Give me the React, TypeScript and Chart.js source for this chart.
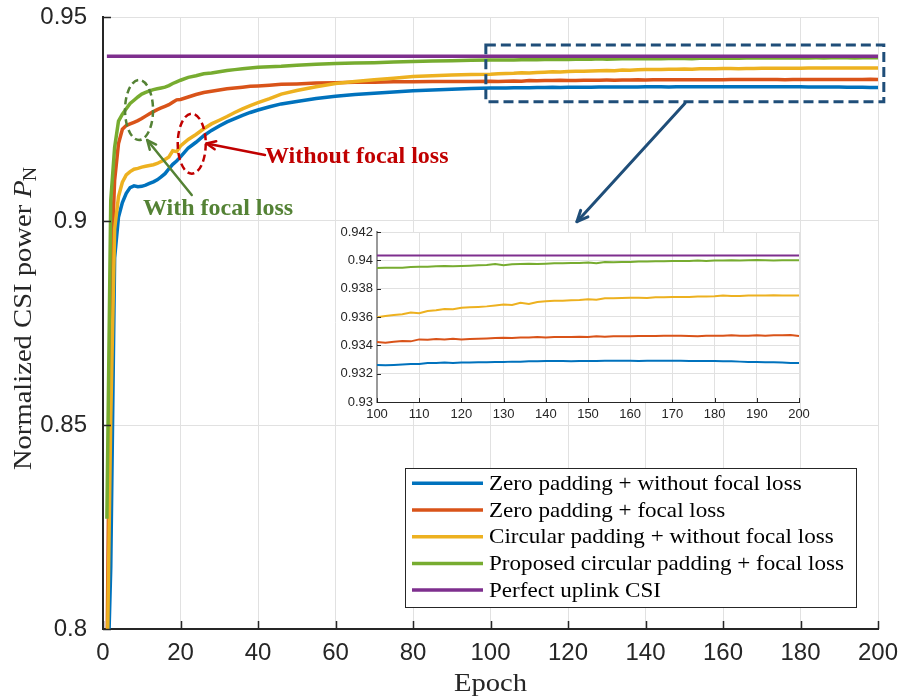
import React, { useEffect, useRef } from 'react';
import { Chart, registerables } from 'chart.js';

Chart.register(...registerables);

// ---------------- data ----------------
const epochs = [
  1, 2, 3, 4, 5, 6, 7, 8, 9, 10, 11, 12, 13, 14, 15, 16, 17, 18, 19, 20,
  22, 24, 26, 28, 30, 32, 34, 36, 38, 40,
  43, 46, 50,
  55, 60, 65, 70, 75, 80, 85, 90, 95,
  100, 102, 104, 106, 108, 110, 112, 114, 116, 118,
  120, 122, 124, 126, 128, 130, 132, 134, 136, 138,
  140, 142, 144, 146, 148, 150, 152, 154, 156, 158,
  160, 162, 164, 166, 168, 170, 172, 174, 176, 178,
  180, 182, 184, 186, 188, 190, 192, 194, 196, 198,
  200,
];

const zeroPadNoFocal = [
  0.78, 0.815, 0.891, 0.901, 0.9045, 0.9068, 0.9082, 0.9086, 0.9084, 0.9085, 0.9088, 0.9092, 0.9096, 0.9101, 0.9108, 0.9116, 0.9128, 0.9139, 0.9147, 0.9157,
  0.9179, 0.9193, 0.9209, 0.9222, 0.9233, 0.9243, 0.9251, 0.9259, 0.9266, 0.9272,
  0.928, 0.9287, 0.9293,
  0.93, 0.9306, 0.931, 0.9313, 0.9316, 0.9319, 0.9321, 0.9323, 0.9325,
  0.93261, 0.93259, 0.93261, 0.93264, 0.93268, 0.93268, 0.93275, 0.93275, 0.93278, 0.93275,
  0.93278, 0.93278, 0.9328, 0.9328, 0.93282, 0.93282, 0.93285, 0.93285, 0.93287, 0.93287,
  0.93289, 0.93289, 0.93289, 0.93287, 0.93289, 0.93289, 0.93289, 0.93292, 0.93292, 0.93292,
  0.93292, 0.93289, 0.93292, 0.93292, 0.93292, 0.93292, 0.93292, 0.93289, 0.93289, 0.93289,
  0.93289, 0.93287, 0.93287, 0.93285, 0.93282, 0.93282, 0.9328, 0.9328, 0.93278, 0.93275,
  0.93275,
];

const zeroPadFocal = [
  0.79, 0.885, 0.91, 0.919, 0.9225, 0.9234, 0.9238, 0.9242, 0.9246, 0.9251, 0.9257, 0.9263, 0.9268, 0.9273, 0.9277, 0.9281, 0.9285, 0.9291, 0.9297, 0.9298,
  0.9304, 0.931, 0.9315, 0.9318, 0.9321, 0.9324, 0.9326, 0.9328, 0.933, 0.9331,
  0.9333, 0.9335, 0.9336,
  0.9338, 0.9339, 0.934, 0.934, 0.9341, 0.9341, 0.9342, 0.9342, 0.9342,
  0.93424, 0.93419, 0.93426, 0.93431, 0.93428, 0.93442, 0.9344, 0.93445, 0.93442, 0.93447,
  0.93442, 0.93445, 0.93447, 0.93449, 0.93452, 0.93454, 0.93452, 0.93456, 0.93456, 0.93459,
  0.93456, 0.93459, 0.93459, 0.93459, 0.93461, 0.93459, 0.93464, 0.93461, 0.93464, 0.93464,
  0.93464, 0.93466, 0.93466, 0.93466, 0.93468, 0.93468, 0.93468, 0.93466, 0.93464, 0.93468,
  0.93468, 0.93468, 0.93471, 0.93468, 0.93468, 0.93471, 0.93468, 0.93471, 0.93471, 0.93473,
  0.93466,
];

const circPadNoFocal = [
  0.785, 0.852, 0.898, 0.906, 0.9095, 0.9113, 0.9121, 0.9127, 0.9129, 0.9132, 0.9134, 0.9136, 0.9138, 0.9141, 0.9146, 0.9151, 0.9157, 0.9172, 0.917, 0.9184,
  0.92, 0.9212, 0.9226, 0.9238, 0.9247, 0.9256, 0.9266, 0.9275, 0.9283, 0.929,
  0.93, 0.9311, 0.932,
  0.9329, 0.9337, 0.9342, 0.9346, 0.935, 0.9354, 0.9356, 0.9358, 0.9359,
  0.93598, 0.93607, 0.93614, 0.93619, 0.93631, 0.93626, 0.93642, 0.93647, 0.93656, 0.93654,
  0.93666, 0.93668, 0.93671, 0.93675, 0.93682, 0.93689, 0.93685, 0.93701, 0.93692, 0.93706,
  0.93711, 0.93715, 0.93715, 0.93718, 0.9372, 0.93725, 0.93722, 0.93732, 0.93732, 0.93734,
  0.93736, 0.93736, 0.93734, 0.93739, 0.93739, 0.93741, 0.93741, 0.93741, 0.93744, 0.93744,
  0.93746, 0.93751, 0.93748, 0.93748, 0.93751, 0.93751, 0.93751, 0.93753, 0.93751, 0.93751,
  0.93751,
];

const circPadFocal = [
  0.827, 0.905, 0.918, 0.9245, 0.9262, 0.9275, 0.9288, 0.9296, 0.9304, 0.9311, 0.9315, 0.9319, 0.9322, 0.9324, 0.9326, 0.9328, 0.9332, 0.9337, 0.9341, 0.9345,
  0.9352, 0.9356, 0.9361, 0.9363, 0.9366, 0.9369, 0.9371, 0.9373, 0.9375, 0.9377,
  0.9378, 0.9379, 0.9382,
  0.9384, 0.9386, 0.9387, 0.9388, 0.939, 0.9391, 0.9392, 0.9393, 0.9394,
  0.93946, 0.93948, 0.93948, 0.93948, 0.93953, 0.93955, 0.93955, 0.93958, 0.9396, 0.93958,
  0.9396, 0.93962, 0.93965, 0.93967, 0.93974, 0.93965, 0.93972, 0.93974, 0.93976, 0.93974,
  0.93976, 0.93979, 0.93979, 0.93981, 0.93981, 0.93984, 0.93979, 0.93988, 0.93986, 0.93988,
  0.93988, 0.93991, 0.93991, 0.93993, 0.93993, 0.93995, 0.93995, 0.93995, 0.93998, 0.93995,
  0.93998, 0.93998, 0.94, 0.93998, 0.94, 0.94002, 0.94, 0.93998, 0.94, 0.94,
  0.94,
];

const perfectEpochs = [1, 200];
const perfectCSI = [0.94035, 0.94035];

const seriesNames = [
  'Zero padding + without focal loss',
  'Zero padding + focal loss',
  'Circular padding + without focal loss',
  'Proposed circular padding + focal loss',
  'Perfect uplink CSI',
];
const seriesColors = ['#0072BD', '#D95319', '#EDB120', '#77AC30', '#7E2F8E'];

const mainXRange = [0, 200, 20];
const mainYRange = [0.8, 0.95, 0.05];
const insetXRange = [100, 200, 10];
const insetYRange = [0.93, 0.942, 0.002];

const xTitle = 'Epoch';
const yTitleMain = 'Normalized CSI power ';
const yTitleSym = 'P';
const yTitleSub = 'N';

// annotations (data coordinates)
const zoomBox = { x0: 98.8, x1: 201.5, y0: 0.94314, y1: 0.92924 };
const zoomArrow = { from: [150.2, 0.92885], to: [122.3, 0.89983] };
const focalEllipse = { x: 9.3, y: 0.9272 };
const noFocalEllipse = { x: 22.9, y: 0.91895 };
const noFocalArrow = { from: [41.8, 0.91618], to: [26.7, 0.919] };
const focalArrow = { from: [22.9, 0.90637], to: [11.4, 0.91985] };
const noFocalLabel = { x: 41.8, y: 0.91576, text: 'Without focal loss' };
const focalLabel = { x: 10.3, y: 0.90294, text: 'With focal loss' };

// ---------------- styling helpers ----------------
const SANS = "'Liberation Sans', Arial, Helvetica, sans-serif";
const SERIF = "'Liberation Serif', 'Times New Roman', serif";
const AXIS_COLOR = '#262626';
const GRID_COLOR = '#e1e1e1';
const CM = 1.1; // horizontal widening to mimic Computer Modern

const fmt = (v: any) => String(parseFloat(Number(v).toFixed(4)));

function toPoints(xs: number[], ys: number[]) {
  return xs.map((x, i) => ({ x, y: ys[i] }));
}

function makeDatasets(lineWidth: number) {
  const all = [zeroPadNoFocal, zeroPadFocal, circPadNoFocal, circPadFocal];
  const ds: any[] = all.map((vals, i) => ({
    label: seriesNames[i],
    data: toPoints(epochs, vals),
    borderColor: seriesColors[i],
    backgroundColor: seriesColors[i],
    borderWidth: lineWidth,
    pointRadius: 0,
    fill: false,
    tension: 0,
    order: 5 - i,
  }));
  ds.push({
    label: seriesNames[4],
    data: toPoints(perfectEpochs, perfectCSI),
    borderColor: seriesColors[4],
    backgroundColor: seriesColors[4],
    borderWidth: lineWidth,
    pointRadius: 0,
    fill: false,
    tension: 0,
    order: 0,
  });
  return ds;
}

function inwardTicks(len: number, width: number) {
  return {
    id: 'inwardTicks',
    afterDatasetsDraw(chart: any) {
      const { ctx, chartArea } = chart;
      const xs = chart.scales.x;
      const ys = chart.scales.y;
      ctx.save();
      ctx.strokeStyle = AXIS_COLOR;
      ctx.lineWidth = width;
      ctx.beginPath();
      xs.ticks.forEach((t: any) => {
        const px = Math.round(xs.getPixelForValue(t.value)) + 0.5;
        ctx.moveTo(px, chartArea.bottom);
        ctx.lineTo(px, chartArea.bottom - len);
      });
      ys.ticks.forEach((t: any) => {
        const py = Math.round(ys.getPixelForValue(t.value)) + 0.5;
        ctx.moveTo(chartArea.left, py);
        ctx.lineTo(chartArea.left + len, py);
      });
      ctx.stroke();
      ctx.restore();
    },
  };
}

function arrow(ctx: CanvasRenderingContext2D, x1: number, y1: number, x2: number, y2: number, color: string, width: number, head: number) {
  ctx.save();
  ctx.strokeStyle = color;
  ctx.lineWidth = width;
  ctx.setLineDash([]);
  ctx.lineCap = 'round';
  ctx.lineJoin = 'round';
  ctx.beginPath();
  ctx.moveTo(x1, y1);
  ctx.lineTo(x2, y2);
  ctx.stroke();
  const a = Math.atan2(y2 - y1, x2 - x1);
  const s = 0.42;
  ctx.beginPath();
  ctx.moveTo(x2 - head * Math.cos(a - s), y2 - head * Math.sin(a - s));
  ctx.lineTo(x2, y2);
  ctx.lineTo(x2 - head * Math.cos(a + s), y2 - head * Math.sin(a + s));
  ctx.stroke();
  ctx.restore();
}

function dashedEllipse(ctx: CanvasRenderingContext2D, cx: number, cy: number, rx: number, ry: number, color: string) {
  ctx.save();
  ctx.strokeStyle = color;
  ctx.lineWidth = 2.5;
  ctx.setLineDash([7, 4]);
  ctx.beginPath();
  ctx.ellipse(cx, cy, rx, ry, 0, 0, Math.PI * 2);
  ctx.stroke();
  ctx.restore();
}

const mainDecor = {
  id: 'mainDecor',
  afterDraw(chart: any) {
    const { ctx, chartArea } = chart;
    const xs = chart.scales.x;
    const ys = chart.scales.y;
    const X = (v: number) => xs.getPixelForValue(v);
    const Y = (v: number) => ys.getPixelForValue(v);

    // zoom rectangle
    ctx.save();
    ctx.strokeStyle = '#1F4E79';
    ctx.lineWidth = 3;
    ctx.setLineDash([10, 5]);
    const rx0 = X(zoomBox.x0), rx1 = X(zoomBox.x1), ry0 = Y(zoomBox.y0), ry1 = Y(zoomBox.y1);
    ctx.strokeRect(rx0, ry0, rx1 - rx0, ry1 - ry0);
    ctx.restore();
    arrow(ctx, X(zoomArrow.from[0]), Y(zoomArrow.from[1]), X(zoomArrow.to[0]), Y(zoomArrow.to[1]), '#1F4E79', 3, 12);

    // focal loss annotations
    dashedEllipse(ctx, X(focalEllipse.x), Y(focalEllipse.y), 14, 30, '#548235');
    dashedEllipse(ctx, X(noFocalEllipse.x), Y(noFocalEllipse.y), 14, 30, '#C00000');
    arrow(ctx, X(noFocalArrow.from[0]), Y(noFocalArrow.from[1]), X(noFocalArrow.to[0]), Y(noFocalArrow.to[1]), '#C00000', 2.5, 10);
    arrow(ctx, X(focalArrow.from[0]), Y(focalArrow.from[1]), X(focalArrow.to[0]), Y(focalArrow.to[1]), '#548235', 2.5, 10);

    ctx.save();
    ctx.font = `bold 24px ${SERIF}`;
    ctx.textBaseline = 'middle';
    ctx.textAlign = 'left';
    ctx.fillStyle = '#C00000';
    ctx.fillText(noFocalLabel.text, X(noFocalLabel.x), Y(noFocalLabel.y));
    ctx.fillStyle = '#548235';
    ctx.fillText(focalLabel.text, X(focalLabel.x), Y(focalLabel.y));
    ctx.restore();

    // legend
    const lx = chartArea.left + 302, ly = chartArea.top + 451, lw = 451, lh = 139;
    ctx.save();
    ctx.fillStyle = '#ffffff';
    ctx.fillRect(lx, ly, lw, lh);
    ctx.strokeStyle = AXIS_COLOR;
    ctx.lineWidth = 1;
    ctx.strokeRect(lx + 0.5, ly + 0.5, lw, lh);
    seriesNames.forEach((name, i) => {
      const y = ly + 15.3 + i * 26.7;
      ctx.strokeStyle = seriesColors[i];
      ctx.lineWidth = 3.5;
      ctx.beginPath();
      ctx.moveTo(lx + 7, y);
      ctx.lineTo(lx + 78, y);
      ctx.stroke();
      ctx.save();
      ctx.translate(lx + 84, y + 6.7);
      ctx.scale(CM, 1);
      ctx.font = `21px ${SERIF}`;
      ctx.fillStyle = '#000';
      ctx.textBaseline = 'alphabetic';
      ctx.textAlign = 'left';
      ctx.fillText(name, 0, 0);
      ctx.restore();
    });
    ctx.restore();

    // axis titles
    ctx.save();
    ctx.fillStyle = AXIS_COLOR;
    ctx.textBaseline = 'alphabetic';
    ctx.translate((chartArea.left + chartArea.right) / 2, 691);
    ctx.scale(CM, 1);
    ctx.font = `26px ${SERIF}`;
    ctx.textAlign = 'center';
    ctx.fillText(xTitle, 0, 0);
    ctx.restore();

    ctx.save();
    ctx.fillStyle = AXIS_COLOR;
    ctx.textBaseline = 'alphabetic';
    ctx.translate(31, (chartArea.top + chartArea.bottom) / 2 - 5);
    ctx.rotate(-Math.PI / 2);
    ctx.scale(CM, 1);
    ctx.font = `26px ${SERIF}`;
    const w1 = ctx.measureText(yTitleMain).width;
    ctx.font = `italic 26px ${SERIF}`;
    const w2 = ctx.measureText(yTitleSym).width;
    ctx.font = `18px ${SERIF}`;
    const w3 = ctx.measureText(yTitleSub).width;
    const total = w1 + w2 + w3;
    let x = -total / 2;
    ctx.textAlign = 'left';
    ctx.font = `26px ${SERIF}`;
    ctx.fillText(yTitleMain, x, 0);
    x += w1;
    ctx.font = `italic 26px ${SERIF}`;
    ctx.fillText(yTitleSym, x, 0);
    x += w2 - 1;
    ctx.font = `18px ${SERIF}`;
    ctx.fillText(yTitleSub, x, 5);
    ctx.restore();
  },
};

const insetBackground = {
  id: 'insetBackground',
  beforeDraw(chart: any) {
    const { ctx, chartArea } = chart;
    ctx.save();
    ctx.fillStyle = '#ffffff';
    ctx.fillRect(chartArea.left, chartArea.top, chartArea.right - chartArea.left, chartArea.bottom - chartArea.top);
    ctx.restore();
  },
};

const fixX = (h: number) => (s: any) => {
  s.height = h;
  s.paddingLeft = 0;
  s.paddingRight = 0;
  s.paddingTop = 0;
  s.paddingBottom = 0;
};
const fixY = (w: number) => (s: any) => {
  s.width = w;
  s.paddingLeft = 0;
  s.paddingRight = 0;
  s.paddingTop = 0;
  s.paddingBottom = 0;
};

export default function App() {
  const mainRef = useRef<HTMLCanvasElement>(null);
  const insetRef = useRef<HTMLCanvasElement>(null);

  useEffect(() => {
    document.body.style.margin = '0';
    const main = new Chart(mainRef.current as HTMLCanvasElement, {
      type: 'line',
      data: { datasets: makeDatasets(3.5) },
      options: {
        responsive: false,
        animation: false,
        layout: { padding: { top: 17, right: 20, left: 0, bottom: 0 } },
        plugins: { legend: { display: false }, tooltip: { enabled: false } },
        scales: {
          x: {
            type: 'linear',
            min: mainXRange[0],
            max: mainXRange[1],
            ticks: {
              stepSize: mainXRange[2],
              autoSkip: false,
              maxRotation: 0,
              padding: 10,
              color: AXIS_COLOR,
              font: { family: SANS, size: 24 },
              callback: fmt,
            },
            grid: { color: GRID_COLOR, drawTicks: false, lineWidth: 1 },
            border: { display: true, color: AXIS_COLOR, width: 2 },
            afterFit: fixX(69),
          },
          y: {
            type: 'linear',
            min: mainYRange[0],
            max: mainYRange[1],
            ticks: {
              stepSize: mainYRange[2],
              padding: 16,
              color: AXIS_COLOR,
              font: { family: SANS, size: 24 },
              callback: fmt,
            },
            grid: { color: GRID_COLOR, drawTicks: false, lineWidth: 1 },
            border: { display: true, color: AXIS_COLOR, width: 2 },
            afterFit: fixY(103),
          },
        },
      } as any,
      plugins: [inwardTicks(8, 1.5), mainDecor],
    });

    const inset = new Chart(insetRef.current as HTMLCanvasElement, {
      type: 'line',
      data: { datasets: makeDatasets(2) },
      options: {
        responsive: false,
        animation: false,
        layout: { padding: { top: 10, right: 21, left: 0, bottom: 0 } },
        plugins: { legend: { display: false }, tooltip: { enabled: false } },
        scales: {
          x: {
            type: 'linear',
            min: insetXRange[0],
            max: insetXRange[1],
            ticks: {
              stepSize: insetXRange[2],
              autoSkip: false,
              maxRotation: 0,
              padding: 5,
              color: AXIS_COLOR,
              font: { family: SANS, size: 13 },
              callback: fmt,
            },
            grid: { color: GRID_COLOR, drawTicks: false, lineWidth: 1 },
            border: { display: true, color: AXIS_COLOR, width: 1 },
            afterFit: fixX(20),
          },
          y: {
            type: 'linear',
            min: insetYRange[0],
            max: insetYRange[1],
            ticks: {
              stepSize: insetYRange[2],
              padding: 4,
              color: AXIS_COLOR,
              font: { family: SANS, size: 13 },
              callback: fmt,
            },
            grid: { color: GRID_COLOR, drawTicks: false, lineWidth: 1 },
            border: { display: true, color: '#9a9a9a', width: 2 },
            afterFit: fixY(57),
          },
        },
      } as any,
      plugins: [insetBackground, inwardTicks(4, 1)],
    });

    return () => {
      main.destroy();
      inset.destroy();
    };
  }, []);

  return (
    <div style={{ position: 'relative', width: 898, height: 698, background: '#ffffff' }}>
      <canvas ref={mainRef} width={898} height={698} style={{ position: 'absolute', left: 0, top: 0 }} />
      <canvas ref={insetRef} width={500} height={200} style={{ position: 'absolute', left: 320, top: 222 }} />
    </div>
  );
}
